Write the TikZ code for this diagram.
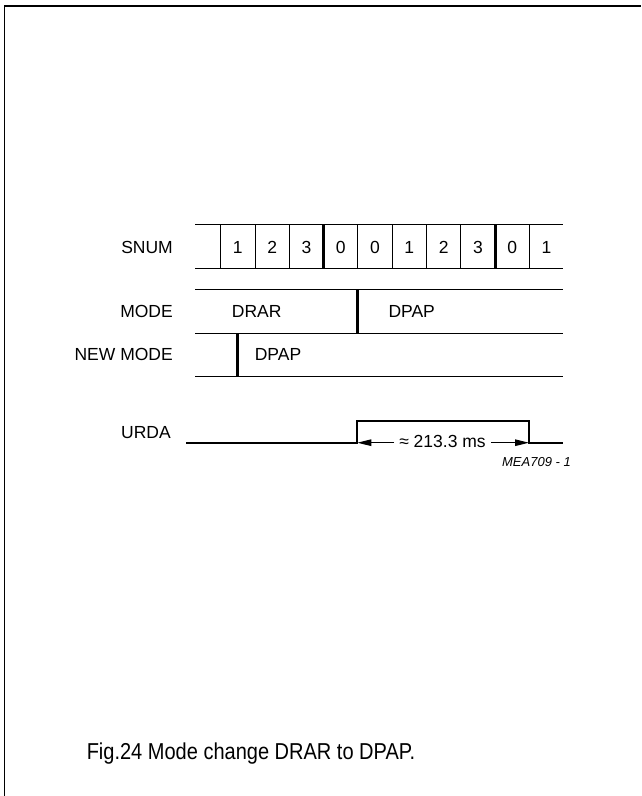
\documentclass[tikz,border=0pt]{standalone}
\usepackage{fontspec}
\setmainfont{Liberation Sans}
\newfontfamily\capfont[FakeStretch=0.87]{Liberation Sans}
\usetikzlibrary{arrows.meta,positioning}

\begin{document}
\begin{tikzpicture}[x=1pt, y=-1pt,
		font=\fontsize{17.5}{20}\selectfont,
		lbl/.style={anchor=east, inner sep=0pt},
		txt/.style={inner sep=0pt},
		thinline/.style={line width=0.9pt},
		bar/.style={line width=3pt},
		sig/.style={line width=1.7pt},
		dim/.style={line width=1.1pt, -{Triangle[length=14pt, width=6.5pt]}}]
	\useasboundingbox (0,0) rectangle (641,796);
	% frame
	\draw[line width=1.8pt] (4.5,796) -- (4.5,6) -- (641,6);
	
	% SNUM
	\node[lbl] (snum) at (173,247) {SNUM};
	\draw[thinline] (195,224) -- (563,224);
	\draw[thinline] (195,268) -- (563,268);
	\foreach \v [count=\i from 0] in {1,2,3,0,0,1,2,3,0,1}
		\node[txt] (c\i) at (237.85+34.3*\i,247) {\v};
	\foreach \i in {0,1,2,4,5,6,7,9}
		\draw[thinline] (220.7+34.3*\i,224) -- ++(0,44);
	\foreach \i in {3,8}
		\draw[bar] (220.7+34.3*\i,224) -- ++(0,44);
	
	% MODE / NEW MODE
	\node[lbl] (mode) at (173,311) {MODE};
	\node[lbl] (newmode) at (173,354.5) {NEW MODE};
	\foreach \y in {289.3,333.3,376.7}
		\draw[thinline] (195,\y) -- (563,\y);
	\draw[bar] (357.5,289.3) -- (357.5,333.3);
	\draw[bar] (237,333.3) -- (237,376.7);
	\node[txt] (drar) at (256.7,311) {DRAR};
	\node[txt] (dpap) at (411.7,311) {DPAP};
	\node[txt] (newdpap) at (278,354.5) {DPAP};
	
	% URDA
	\node[lbl] (urda) at (171,433) {URDA};
	\coordinate (rise) at (357.3,442.7);
	\coordinate (fall) at (529,442.7);
	\draw[sig] (186,442.7) -- (rise) -- (357.3,421) -- (529,421) -- (fall) -- (563,442.7);
	\node[inner sep=5pt] (dur) at (442.5,441.7) {≈ 213.3 ms};
	\draw[dim] (dur.west |- rise) -- (rise);
	\draw[dim] (dur.east |- fall) -- (fall);
	\node[lbl, font=\fontsize{13}{15}\selectfont\itshape] (code) at (571,462) {MEA709 - 1};
	
	% caption
	\node[txt, font=\fontsize{23}{26}\capfont] (caption) at (251,754) {Fig.24 Mode change DRAR to DPAP.};
\end{tikzpicture}
\end{document}
